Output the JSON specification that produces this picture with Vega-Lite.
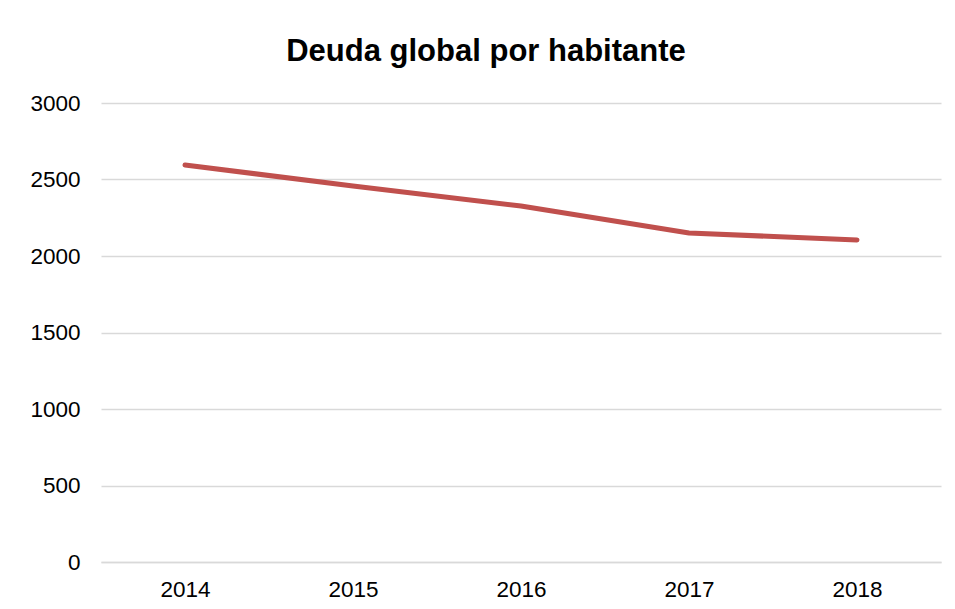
{
  "$schema": "https://vega.github.io/schema/vega-lite/v6.json",
  "autosize": "none",
  "width": 840,
  "height": 459,
  "padding": {"left": 101, "top": 103, "right": 14, "bottom": 47},
  "background": "white",
  "title": {
    "text": "Deuda global por habitante",
    "font": "Liberation Sans",
    "fontSize": 31,
    "fontWeight": "bold",
    "color": "#000000",
    "anchor": "middle",
    "frame": "group",
    "dx": -35,
    "dy": -20
  },
  "data": {
    "values": [
      {"year": "2014", "deuda": 2595},
      {"year": "2015", "deuda": 2457},
      {"year": "2016", "deuda": 2327},
      {"year": "2017", "deuda": 2150},
      {"year": "2018", "deuda": 2105}
    ]
  },
  "mark": {"type": "line", "color": "#C0504D", "strokeWidth": 5, "strokeCap": "round", "strokeJoin": "round"},
  "encoding": {
    "x": {
      "field": "year",
      "type": "ordinal",
      "scale": {"type": "point", "padding": 0.5},
      "axis": {
        "title": null,
        "labelAngle": 0,
        "ticks": false,
        "domain": true,
        "domainColor": "#D9D9D9",
        "domainWidth": 1.5,
        "grid": false,
        "labelFont": "Liberation Sans",
        "labelFontSize": 22.5,
        "labelColor": "#000000",
        "labelPadding": 16
      }
    },
    "y": {
      "field": "deuda",
      "type": "quantitative",
      "scale": {"domain": [0, 3000]},
      "axis": {
        "title": null,
        "values": [0, 500, 1000, 1500, 2000, 2500, 3000],
        "format": "d",
        "ticks": false,
        "domain": false,
        "grid": true,
        "gridColor": "#D9D9D9",
        "gridWidth": 1.5,
        "labelFont": "Liberation Sans",
        "labelFontSize": 22.5,
        "labelColor": "#000000",
        "labelPadding": 21
      }
    }
  },
  "config": {"view": {"stroke": null}}
}
